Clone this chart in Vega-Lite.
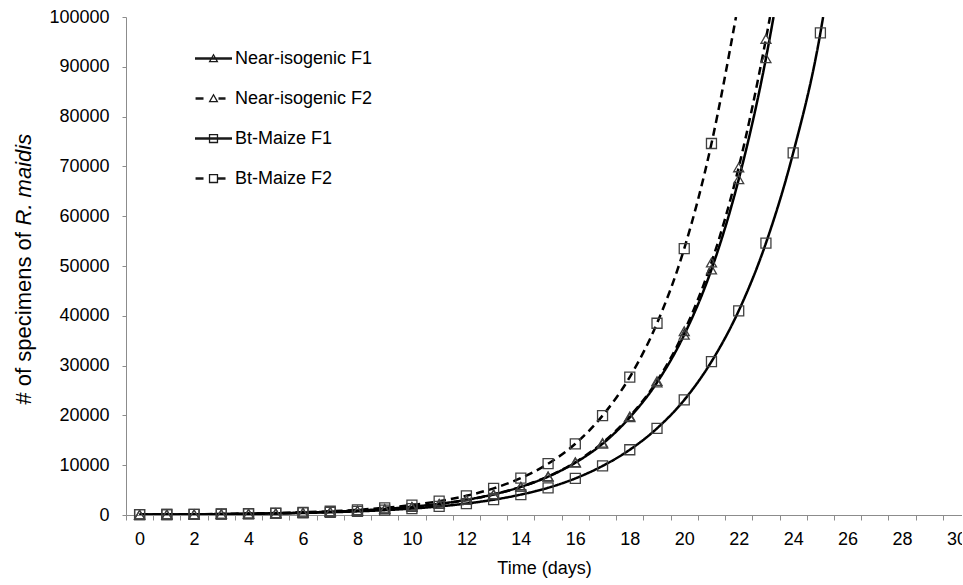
{
  "$schema": "https://vega.github.io/schema/vega-lite/v6.json",
  "width": 836,
  "height": 498,
  "autosize": {"type": "none"},
  "padding": {"left": 126, "top": 17, "right": 0, "bottom": 70},
  "background": "white",
  "config": {"font": "Liberation Sans", "view": {"stroke": null}, "axis": {"grid": false}},
  "data": {"values": [
    {"s":"Near-isogenic F1","d":0,"n":76,"m":1},{"s":"Near-isogenic F1","d":1,"n":103,"m":1},{"s":"Near-isogenic F1","d":2,"n":140,"m":1},{"s":"Near-isogenic F1","d":3,"n":190,"m":1},{"s":"Near-isogenic F1","d":4,"n":260,"m":1},{"s":"Near-isogenic F1","d":5,"n":355,"m":1},{"s":"Near-isogenic F1","d":6,"n":480,"m":1},{"s":"Near-isogenic F1","d":7,"n":655,"m":1},{"s":"Near-isogenic F1","d":8,"n":890,"m":1},{"s":"Near-isogenic F1","d":9,"n":1210,"m":1},{"s":"Near-isogenic F1","d":10,"n":1650,"m":1},{"s":"Near-isogenic F1","d":11,"n":2240,"m":1},{"s":"Near-isogenic F1","d":12,"n":3050,"m":1},{"s":"Near-isogenic F1","d":13,"n":4150,"m":1},{"s":"Near-isogenic F1","d":14,"n":5650,"m":1},{"s":"Near-isogenic F1","d":15,"n":7700,"m":1},{"s":"Near-isogenic F1","d":16,"n":10500,"m":1},{"s":"Near-isogenic F1","d":17,"n":14300,"m":1},{"s":"Near-isogenic F1","d":18,"n":19600,"m":1},{"s":"Near-isogenic F1","d":19,"n":26600,"m":1},{"s":"Near-isogenic F1","d":20,"n":36200,"m":1},{"s":"Near-isogenic F1","d":21,"n":49300,"m":1},{"s":"Near-isogenic F1","d":22,"n":67400,"m":1},{"s":"Near-isogenic F1","d":23,"n":91700,"m":1},{"s":"Near-isogenic F1","d":23.28,"n":100000,"m":0},
    {"s":"Near-isogenic F2","d":0,"n":68,"m":1},{"s":"Near-isogenic F2","d":1,"n":94,"m":1},{"s":"Near-isogenic F2","d":2,"n":128,"m":1},{"s":"Near-isogenic F2","d":3,"n":175,"m":1},{"s":"Near-isogenic F2","d":4,"n":240,"m":1},{"s":"Near-isogenic F2","d":5,"n":330,"m":1},{"s":"Near-isogenic F2","d":6,"n":455,"m":1},{"s":"Near-isogenic F2","d":7,"n":620,"m":1},{"s":"Near-isogenic F2","d":8,"n":850,"m":1},{"s":"Near-isogenic F2","d":9,"n":1170,"m":1},{"s":"Near-isogenic F2","d":10,"n":1600,"m":1},{"s":"Near-isogenic F2","d":11,"n":2200,"m":1},{"s":"Near-isogenic F2","d":12,"n":3010,"m":1},{"s":"Near-isogenic F2","d":13,"n":4120,"m":1},{"s":"Near-isogenic F2","d":14,"n":5650,"m":1},{"s":"Near-isogenic F2","d":15,"n":7750,"m":1},{"s":"Near-isogenic F2","d":16,"n":10600,"m":1},{"s":"Near-isogenic F2","d":17,"n":14500,"m":1},{"s":"Near-isogenic F2","d":18,"n":19800,"m":1},{"s":"Near-isogenic F2","d":19,"n":26900,"m":1},{"s":"Near-isogenic F2","d":20,"n":36900,"m":1},{"s":"Near-isogenic F2","d":21,"n":50700,"m":1},{"s":"Near-isogenic F2","d":22,"n":69800,"m":1},{"s":"Near-isogenic F2","d":23,"n":95600,"m":1},{"s":"Near-isogenic F2","d":23.15,"n":100000,"m":0},
    {"s":"Bt-Maize F1","d":0,"n":75,"m":1},{"s":"Bt-Maize F1","d":1,"n":100,"m":1},{"s":"Bt-Maize F1","d":2,"n":130,"m":1},{"s":"Bt-Maize F1","d":3,"n":175,"m":1},{"s":"Bt-Maize F1","d":4,"n":230,"m":1},{"s":"Bt-Maize F1","d":5,"n":310,"m":1},{"s":"Bt-Maize F1","d":6,"n":410,"m":1},{"s":"Bt-Maize F1","d":7,"n":545,"m":1},{"s":"Bt-Maize F1","d":8,"n":730,"m":1},{"s":"Bt-Maize F1","d":9,"n":970,"m":1},{"s":"Bt-Maize F1","d":10,"n":1290,"m":1},{"s":"Bt-Maize F1","d":11,"n":1720,"m":1},{"s":"Bt-Maize F1","d":12,"n":2300,"m":1},{"s":"Bt-Maize F1","d":13,"n":3070,"m":1},{"s":"Bt-Maize F1","d":14,"n":4100,"m":1},{"s":"Bt-Maize F1","d":15,"n":5460,"m":1},{"s":"Bt-Maize F1","d":16,"n":7350,"m":1},{"s":"Bt-Maize F1","d":17,"n":9850,"m":1},{"s":"Bt-Maize F1","d":18,"n":13100,"m":1},{"s":"Bt-Maize F1","d":19,"n":17400,"m":1},{"s":"Bt-Maize F1","d":20,"n":23100,"m":1},{"s":"Bt-Maize F1","d":21,"n":30800,"m":1},{"s":"Bt-Maize F1","d":22,"n":41000,"m":1},{"s":"Bt-Maize F1","d":23,"n":54600,"m":1},{"s":"Bt-Maize F1","d":24,"n":72700,"m":1},{"s":"Bt-Maize F1","d":25,"n":96800,"m":1},{"s":"Bt-Maize F1","d":25.1,"n":100000,"m":0},
    {"s":"Bt-Maize F2","d":0,"n":75,"m":1},{"s":"Bt-Maize F2","d":1,"n":105,"m":1},{"s":"Bt-Maize F2","d":2,"n":145,"m":1},{"s":"Bt-Maize F2","d":3,"n":200,"m":1},{"s":"Bt-Maize F2","d":4,"n":280,"m":1},{"s":"Bt-Maize F2","d":5,"n":390,"m":1},{"s":"Bt-Maize F2","d":6,"n":540,"m":1},{"s":"Bt-Maize F2","d":7,"n":750,"m":1},{"s":"Bt-Maize F2","d":8,"n":1040,"m":1},{"s":"Bt-Maize F2","d":9,"n":1440,"m":1},{"s":"Bt-Maize F2","d":10,"n":2000,"m":1},{"s":"Bt-Maize F2","d":11,"n":2780,"m":1},{"s":"Bt-Maize F2","d":12,"n":3850,"m":1},{"s":"Bt-Maize F2","d":13,"n":5350,"m":1},{"s":"Bt-Maize F2","d":14,"n":7400,"m":1},{"s":"Bt-Maize F2","d":15,"n":10300,"m":1},{"s":"Bt-Maize F2","d":16,"n":14300,"m":1},{"s":"Bt-Maize F2","d":17,"n":19950,"m":1},{"s":"Bt-Maize F2","d":18,"n":27700,"m":1},{"s":"Bt-Maize F2","d":19,"n":38500,"m":1},{"s":"Bt-Maize F2","d":20,"n":53500,"m":1},{"s":"Bt-Maize F2","d":21,"n":74600,"m":1},{"s":"Bt-Maize F2","d":21.9,"n":100000,"m":0}
  ]},
  "layer": [
    {
      "encoding": {
        "x": {"field": "d", "type": "quantitative",
          "scale": {"domain": [-0.5, 30.2], "nice": false, "zero": false},
          "axis": {
            "values": [-0.5,0,0.5,1,1.5,2,2.5,3,3.5,4,4.5,5,5.5,6,6.5,7,7.5,8,8.5,9,9.5,10,10.5,11,11.5,12,12.5,13,13.5,14,14.5,15,15.5,16,16.5,17,17.5,18,18.5,19,19.5,20,20.5,21,21.5,22,22.5,23,23.5,24,24.5,25,25.5,26,26.5,27,27.5,28,28.5,29,29.5,30],
            "labelExpr": "datum.value % 2 === 0 ? '' + datum.value : ''",
            "labelOverlap": false, "labelFlush": false,
            "labelFontSize": 18, "labelColor": "#000", "labelPadding": 10,
            "tickSize": 5, "tickColor": "#8c8c8c", "tickWidth": 1,
            "tickOpacity": {"condition": {"test": "datum.value % 1 !== 0", "value": 1}, "value": 0},
            "domainColor": "#8c8c8c", "domainWidth": 1,
            "title": "Time (days)", "titleFontSize": 18, "titleFontWeight": "normal", "titleColor": "#000",
            "titleY": 58, "titleBaseline": "alphabetic"
          }},
        "y": {"field": "n", "type": "quantitative",
          "scale": {"domain": [0, 100000], "nice": false},
          "axis": {
            "orient": "left",
            "values": [0,10000,20000,30000,40000,50000,60000,70000,80000,90000,100000],
            "format": "d", "labelFlush": false,
            "labelFontSize": 18, "labelColor": "#000", "labelPadding": 13,
            "tickSize": 4, "tickColor": "#8c8c8c", "domainColor": "#8c8c8c",
            "title": "# of specimens of", "titleFontSize": 22, "titleFontWeight": "normal", "titleColor": "#000",
            "titleAngle": -90, "titleAlign": "left", "titleBaseline": "alphabetic", "titleX": -96, "titleY": 387
          }}
      },
      "layer": [
        {
          "mark": {"type": "line", "interpolate": "monotone", "strokeWidth": 2.5, "color": "#000", "clip": true},
          "encoding": {
            "strokeDash": {"field": "s", "type": "nominal",
              "scale": {"domain": ["Near-isogenic F1","Near-isogenic F2","Bt-Maize F1","Bt-Maize F2"], "range": [[1,0],[8,5],[1,0],[8,5]]},
              "legend": null}
          }
        },
        {
          "transform": [{"filter": "datum.m == 1"}],
          "mark": {"type": "point", "filled": false, "stroke": "#404040", "strokeWidth": 1.3, "size": 100, "opacity": 1},
          "encoding": {
            "shape": {"field": "s", "type": "nominal",
              "scale": {"domain": ["Near-isogenic F1","Near-isogenic F2","Bt-Maize F1","Bt-Maize F2"], "range": ["triangle-up","triangle-up","square","square"]},
              "legend": null}
          }
        }
      ]
    },
    {
      "transform": [{"filter": "false"}],
      "mark": {"type": "point", "filled": true, "color": "#1a1a1a", "strokeWidth": 0, "opacity": 1},
      "encoding": {
        "y": {"field": "n", "type": "quantitative",
          "scale": {"domain": [0, 100000], "nice": false},
          "axis": {
            "orient": "left", "labels": false, "ticks": false, "domain": false, "grid": false,
            "title": "R. maidis", "titleFontSize": 22, "titleFontStyle": "italic", "titleFontWeight": "normal", "titleColor": "#000",
            "titleAngle": -90, "titleAlign": "left", "titleBaseline": "alphabetic", "titleX": -96, "titleY": 208
          }},
        "shape": {"field": "s", "type": "nominal",
          "scale": {"domain": ["Near-isogenic F1","Near-isogenic F2","Bt-Maize F1","Bt-Maize F2"],
            "range": [
              "M-1,-0.07H1V0.07H-1Z M0,-0.27L0.27,0.2L-0.27,0.2Z M0,-0.13L-0.15,0.13L0.15,0.13Z",
              "M-0.97,-0.07H-0.54V0.07H-0.97Z M0.27,-0.07H0.65V0.07H0.27Z M0,-0.27L0.27,0.2L-0.27,0.2Z M0,-0.13L-0.15,0.13L0.15,0.13Z",
              "M-1,-0.07H1V0.07H-1Z M-0.25,-0.25H0.25V0.25H-0.25Z M-0.18,-0.18V0.18H0.18V-0.18Z",
              "M-0.97,-0.07H-0.54V0.07H-0.97Z M0.25,-0.07H0.65V0.07H0.25Z M-0.25,-0.25H0.25V0.25H-0.25Z M-0.18,-0.18V0.18H0.18V-0.18Z"
            ]},
          "legend": {
            "orient": "none", "legendX": 69, "legendY": 23, "title": null, "padding": 0,
            "symbolSize": 1369, "symbolFillColor": "#1a1a1a", "symbolStrokeWidth": 0, "symbolOpacity": 1,
            "labelFontSize": 18, "labelColor": "#000", "labelOffset": 3, "rowPadding": 12, "labelLimit": 300
          }}
      }
    }
  ],
  "resolve": {"scale": {"shape": "independent", "y": "independent"}, "axis": {"y": "independent"}}
}
